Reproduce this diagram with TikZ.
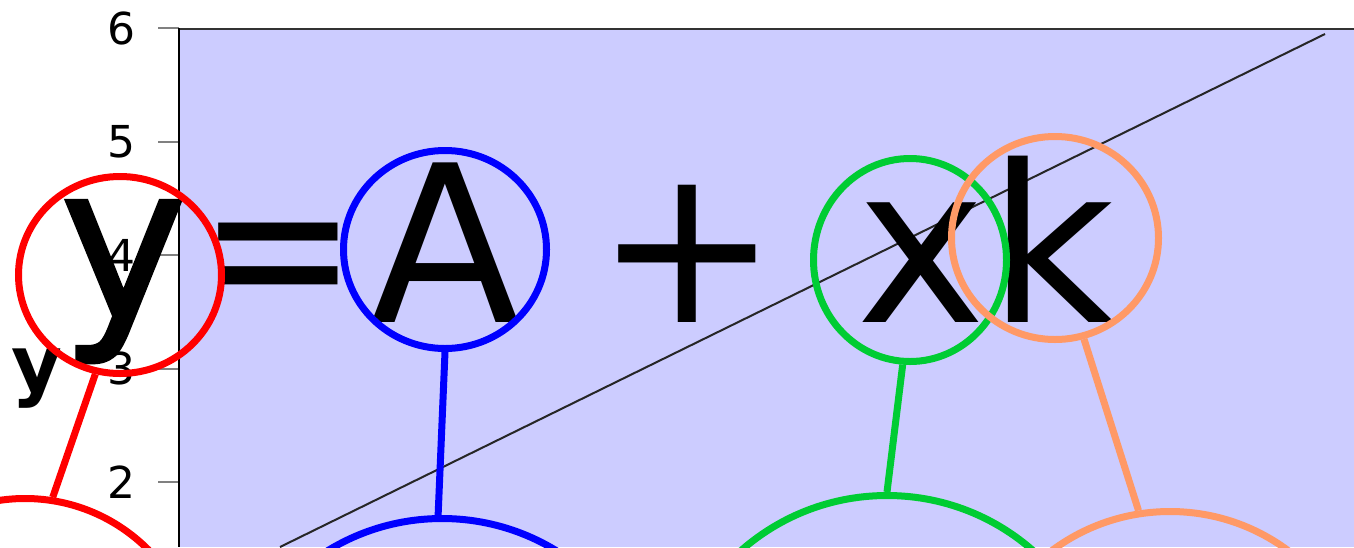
\documentclass[tikz,border=0pt]{standalone}
\usepackage{fontspec}
\setmainfont{DejaVu Sans}
\newfontfamily\heavyy[FakeBold=1.5]{DejaVu Sans}
\usetikzlibrary{shapes.geometric}
\definecolor{lav}{RGB}{204,204,255}
\definecolor{cred}{RGB}{255,0,0}
\definecolor{cblue}{RGB}{0,0,255}
\definecolor{cgreen}{RGB}{0,204,51}
\definecolor{corange}{RGB}{255,153,102}
\tikzset{
  ring/.style={ellipse, draw, line width=7pt, inner sep=0pt},
  link/.style={line width=7pt},
  big/.style={inner sep=0pt, anchor=base, font=\fontsize{219}{219}\selectfont},
  ticklab/.style={inner sep=0pt, anchor=east, font=\fontsize{44}{44}\selectfont},
  tickmark/.style={draw=gray, line width=2pt}
}
\begin{document}
\begin{tikzpicture}[x=1pt, y=-1pt]
\useasboundingbox (0,0) rectangle (1354,547);
\clip (0,0) rectangle (1354,547);
% plot area
\fill[lav] (179,28) rectangle (1354,547);
\draw[line width=2pt, black!85] (1325,34) -- (280,547);
% ticks
\foreach \v/\yy in {6/28, 5/141.5, 4/255, 3/368.5, 2/482}{
  \draw[tickmark] (158,\yy) -- (179,\yy);
  \node[ticklab] at (136,\yy) {\v};
}
\draw[line width=2pt, black!80] (178,28.5) -- (1354,28.5);
\draw[line width=2pt, black] (179,28) -- (179,547);
% axis label
\node[inner sep=0pt, anchor=base, font=\fontsize{78}{78}\selectfont\bfseries] (ylab) at (37,391) {y};
% equation
\node[big, font=\fontsize{215}{215}\selectfont\heavyy] (ty) at (123.5,318) {y};
\node[big, xscale=0.87] (teq) at (278.5,322) {=};
\node[big] (tA) at (445,322) {A};
\node[big] (tplus) at (687.5,322) {+};
\node[big] (tx) at (921.5,322) {x};
\node[big] (tk) at (1052,322) {k};
% rings
\node[ring, draw=cred, minimum width=203pt, minimum height=197pt] (ru) at (120,275) {};
\node[ring, draw=cblue, minimum width=203pt, minimum height=198pt] (bu) at (445,249.5) {};
\node[ring, draw=cgreen, minimum width=193pt, minimum height=203pt] (gu) at (910,260) {};
\node[ring, draw=corange, minimum width=207pt, minimum height=203pt] (ou) at (1055,238) {};
\node[ring, draw=cred, minimum width=348pt, minimum height=348pt] (rl) at (25,672.5) {};
\node[ring, draw=cblue, minimum width=438pt, minimum height=438pt] (bl) at (442,737.5) {};
\node[ring, draw=cgreen, minimum width=442pt, minimum height=442pt] (gl) at (887,716.5) {};
\node[ring, draw=corange, minimum width=396pt, minimum height=396pt] (ol) at (1170,709.5) {};
% links
\draw[link, cred] (ru.256) -- (rl.81);
\draw[link, cblue] (bu.270) -- (bl.91);
\draw[link, cgreen] (gu.266) -- (gl.90);
\draw[link, corange] (ou.286) -- (ol.99);
\end{tikzpicture}
\end{document}
